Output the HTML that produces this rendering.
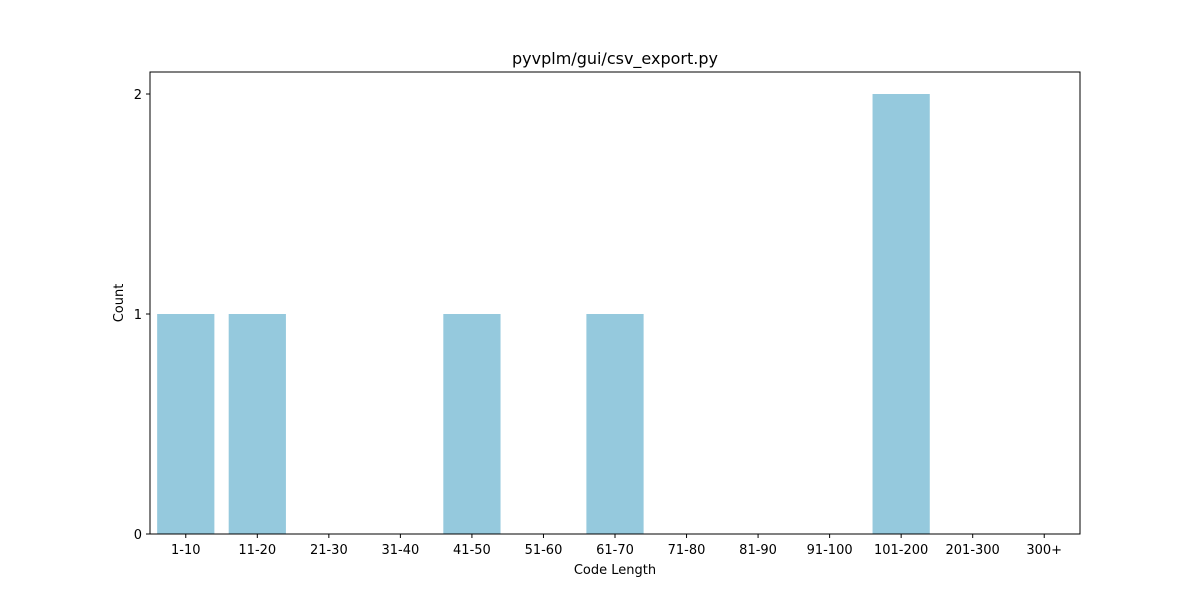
<!DOCTYPE html>
<html><head><meta charset="utf-8"><style>
body{margin:0;background:#fff;}
svg{display:block;font-family:"DejaVu Sans","Liberation Sans",sans-serif;}
</style></head><body>
<svg id="chart" width="1200" height="600">
<rect width="1200" height="600" fill="#fff"/>
<text x="615" y="64" text-anchor="middle" font-size="16">pyvplm/gui/csv_export.py</text>
<g id="bars"></g>
<rect x="150" y="72" width="930" height="462" fill="none" stroke="#000" stroke-width="1"/>
<g id="xticks"></g><g id="yticks"></g>
<text x="615" y="574" text-anchor="middle" font-size="13">Code Length</text>
<text transform="translate(123,303) rotate(-90)" text-anchor="middle" font-size="13">Count</text>
</svg>
<script>
const categories=["1-10","11-20","21-30","31-40","41-50","51-60","61-70","71-80","81-90","91-100","101-200","201-300","300+"];
const counts=[1,1,0,0,1,0,1,0,0,0,2,0,0];
const yTicks=[0,1,2];
const L=150,R=1080,T=72,B=534,yMax=2.1;
const step=(R-L)/categories.length;
const xC=i=>L+step*(i+0.5);
const y=v=>B-(v/yMax)*(B-T);
const NS="http://www.w3.org/2000/svg";
const bars=document.getElementById('bars'),xt=document.getElementById('xticks'),yt=document.getElementById('yticks');
categories.forEach((c,i)=>{
  const r=document.createElementNS(NS,'rect');
  r.setAttribute('x',xC(i)-step*0.4);r.setAttribute('width',step*0.8);
  r.setAttribute('y',y(counts[i]));r.setAttribute('height',B-y(counts[i]));
  r.setAttribute('fill','#95c9dd');
  
  
  bars.appendChild(r);
  const l=document.createElementNS(NS,'line');
  l.setAttribute('x1',xC(i));l.setAttribute('x2',xC(i));l.setAttribute('y1',B);l.setAttribute('y2',B+4);l.setAttribute('stroke','#000');
  
  
  xt.appendChild(l);
  const t=document.createElementNS(NS,'text');
  t.setAttribute('x',xC(i));t.setAttribute('y',B+20);t.setAttribute('text-anchor','middle');t.setAttribute('font-size','13');
  t.textContent=c;
  
  
  xt.appendChild(t);
});
yTicks.forEach(v=>{
  const l=document.createElementNS(NS,'line');
  l.setAttribute('x1',L-4);l.setAttribute('x2',L);l.setAttribute('y1',y(v));l.setAttribute('y2',y(v));l.setAttribute('stroke','#000');
  
  
  yt.appendChild(l);
  const t=document.createElementNS(NS,'text');
  t.setAttribute('x',L-8);t.setAttribute('y',y(v)+5);t.setAttribute('text-anchor','end');t.setAttribute('font-size','13');
  t.textContent=v;
  
  
  yt.appendChild(t);
});
</script>
</body></html>
